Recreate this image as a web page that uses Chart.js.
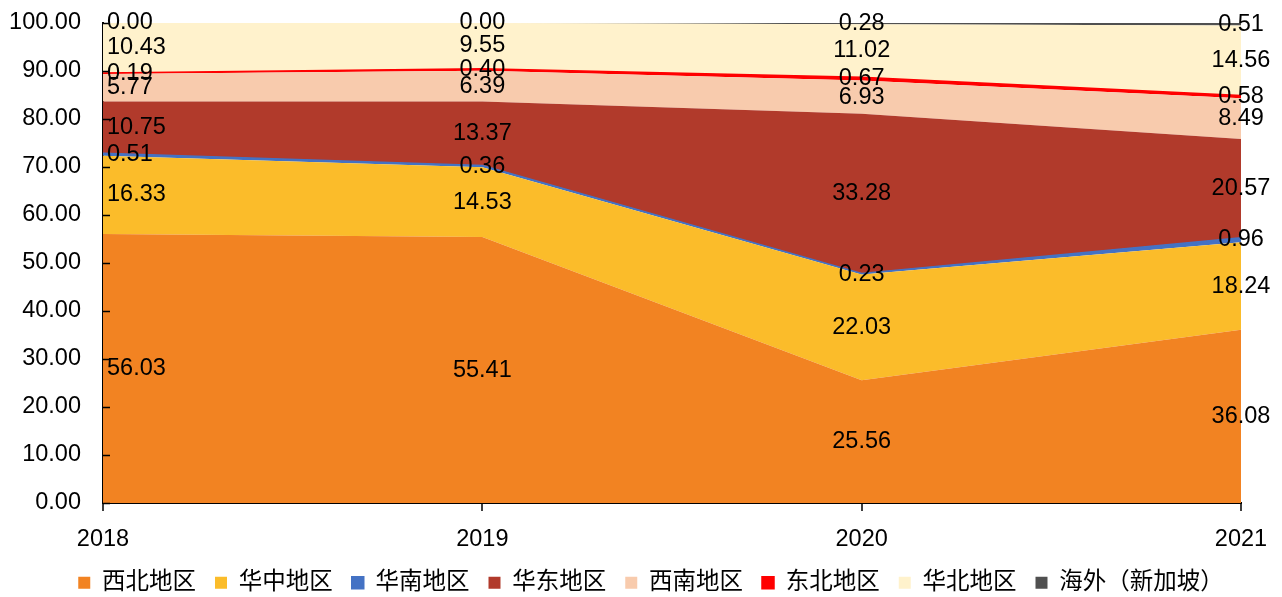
<!DOCTYPE html>
<html lang="zh">
<head>
<meta charset="UTF-8">
<title>各地区收入占比</title>
<script src="https://cdn.jsdelivr.net/npm/chart.js"></script>
<style>
  html, body { margin: 0; padding: 0; background: #fff; }
  #wrap { position: relative; width: 1282px; height: 597px; }
</style>
</head>
<body>
<div id="wrap"><canvas id="regionChart"></canvas></div>
<script>
// data (percent)
const years = ['2018', '2019', '2020', '2021'];
const xibei  = [56.03, 55.41, 25.56, 36.08];
const huazhong = [16.33, 14.53, 22.03, 18.24];
const huanan = [0.51, 0.36, 0.23, 0.96];
const huadong = [10.75, 13.37, 33.28, 20.57];
const xinan  = [5.77, 6.39, 6.93, 8.49];
const dongbei = [0.19, 0.40, 0.67, 0.58];
const huabei = [10.43, 9.55, 11.02, 14.56];
const haiwai = [0.00, 0.00, 0.28, 0.51];
const regionNames = ['西北地区', '华中地区', '华南地区', '华东地区', '西南地区', '东北地区', '华北地区', '海外（新加坡）'];
const yMax = 100;
const yStep = 10;

const seriesValues = [xibei, huazhong, huanan, huadong, xinan, dongbei, huabei, haiwai];
const colors = ['#F28322', '#FBBC2A', '#4472C4', '#B13A2B', '#F8CBAD', '#FF0000', '#FFF2CC', '#505050'];
const thinLines = [2, 5];

const FONT = '"Liberation Sans", Arial, "Noto Sans CJK SC", sans-serif';
const FS = 23.5;
Chart.defaults.font.family = FONT;
Chart.defaults.font.size = FS;
Chart.defaults.color = '#000';

const datasets = seriesValues.map((vals, i) => ({
    label: regionNames[i],
    data: vals,
    backgroundColor: colors[i],
    borderColor: colors[i],
    borderWidth: thinLines.includes(i) ? 1.5 : 0,
    fill: i === 0 ? 'origin' : '-1',
    pointRadius: 0,
    tension: 0
}));

// value labels in the middle of each band + tick marks
const bandLabels = {
    id: 'bandLabels',
    beforeLayout(chart) {
        // keep the wide legend item spacing but a short legend box
        const lg = chart.legend;
        if (lg && !lg._shortFit) {
            const fit = lg.fit;
            lg.fit = function () { fit.call(this); this.height = 45; };
            lg._shortFit = true;
        }
    },
    afterLayout(chart) {
        // centre the legend on the canvas, not on the plot width
        if (chart.legend) {
            chart.legend.left = 20;
            chart.legend.right = chart.width;
        }
    },
    afterDatasetsDraw(chart) {
        const { ctx, scales: { x, y } } = chart;
        ctx.save();
        ctx.font = FS + 'px ' + FONT;
        ctx.fillStyle = '#000';
        ctx.textBaseline = 'middle';
        years.forEach((yr, j) => {
            let base = 0;
            seriesValues.forEach(vals => {
                const v = vals[j];
                const py = y.getPixelForValue(base + v / 2);
                let px = x.getPixelForValue(j);
                if (j === 0) {
                    ctx.textAlign = 'left';
                    px += 4;
                } else {
                    ctx.textAlign = 'center';
                }
                ctx.fillText(v.toFixed(2), px, py);
                base += v;
            });
        });
        ctx.restore();
    },
    afterDraw(chart) {
        const { ctx, scales: { x, y } } = chart;
        ctx.save();
        ctx.strokeStyle = '#000';
        ctx.lineWidth = 1.5;
        ctx.beginPath();
        for (let v = 0; v <= yMax; v += yStep) {
            const py = Math.round(y.getPixelForValue(v)) + 0.5;
            ctx.moveTo(x.left, py);
            ctx.lineTo(x.left + 7, py);
        }
        years.forEach((yr, j) => {
            const px = Math.round(x.getPixelForValue(j));
            ctx.moveTo(px, y.bottom);
            ctx.lineTo(px, y.bottom + 8);
        });
        ctx.stroke();
        ctx.restore();
    }
};

new Chart(document.getElementById('regionChart'), {
    type: 'line',
    data: { labels: years, datasets },
    options: {
        responsive: true,
        maintainAspectRatio: false,
        animation: false,
        layout: { padding: { top: 0, right: 41, bottom: 0, left: 0 } },
        plugins: {
            legend: {
                position: 'bottom',
                labels: { boxWidth: 12, boxHeight: 12, padding: 19, font: { size: FS } }
            },
            tooltip: { enabled: false }
        },
        scales: {
            x: {
                offset: false,
                grid: { display: false },
                border: { display: true, color: '#000', width: 2 },
                ticks: { padding: 14, maxRotation: 0 },
                afterFit: s => { s.height = 49; }
            },
            y: {
                stacked: true,
                min: 0,
                max: yMax,
                grid: { display: false },
                border: { display: true, color: '#000', width: 2 },
                ticks: { stepSize: yStep, padding: 14, callback: v => v.toFixed(2) },
                afterFit: s => { s.width = 103; s.paddingTop = 23; }
            }
        }
    },
    plugins: [bandLabels]
});
</script>
</body>
</html>
